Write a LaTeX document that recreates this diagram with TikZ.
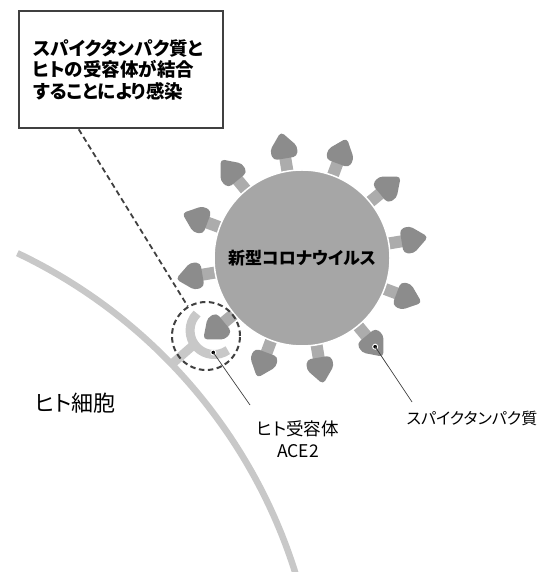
\documentclass[tikz,border=0pt]{standalone}
\usepackage{fontspec}
\setmainfont{Noto Sans CJK JP}[RawFeature=+palt]
\definecolor{virusgray}{RGB}{166,166,166}
\definecolor{spikegray}{RGB}{140,140,140}
\definecolor{stalkgray}{RGB}{172,172,172}
\definecolor{cellgray}{RGB}{200,200,200}
\definecolor{linegray}{RGB}{64,64,64}
\usetikzlibrary{positioning}

\begin{document}
\begin{tikzpicture}[x=1pt, y=1pt,
    stalk/.style={fill=stalkgray},
    spikehead/.style={fill=spikegray, rounded corners=4pt},
    tagtext/.style={font=\fontsize{17.5}{22}\selectfont, align=center},
    pointer/.style={draw=linegray, line width=0.7pt}]
  \useasboundingbox (0,0) rectangle (545,572);

  % cell membrane
  \coordinate (cellmid) at (-209.5,-159);
  \draw[cellgray, line width=6.5pt] (cellmid) ++(64.6:529) arc[start angle=64.6, end angle=15, radius=529];
  \path (cellmid) ++(43.9:529) coordinate (anchorpt);

  % spikes round the virus
  \coordinate (virusmid) at (302,314);
  \foreach \a in {9.5,39.5,...,339.5} {
    \begin{scope}[shift={(virusmid)}, rotate=\a]
      \fill[stalk] (80,-6) rectangle (106,6);
      \fill[spikehead] (101,-12) -- (111,-14) -- (128,0) -- (111,14) -- (101,12) -- cycle;
    \end{scope}
  }
  \node[circle, fill=virusgray, draw=white, line width=1.5pt, minimum size=176pt, inner sep=0pt,
        font=\bfseries\fontsize{17}{20}\selectfont] (virus) at (virusmid) {新型コロナウイルス};

  % receptor holding one spike
  \path (virusmid) ++(219.5:114) coordinate (bound);
  \draw[cellgray, line width=9pt] (bound) ++(215:24) -- (anchorpt);
  \draw[cellgray, line width=9pt] (bound) ++(135:24) arc[start angle=135, end angle=305, radius=24];
  \path (bound) ++(268:22) coordinate (acedot);
  \path (virusmid) ++(309.5:115) coordinate (spikedot);
  \fill[black, draw=white, line width=1pt] (acedot) circle (2.5pt);
  \fill[black, draw=white, line width=1pt] (spikedot) circle (2.5pt);

  % close-up ring and caption box
  \node[circle, draw=linegray, dash pattern=on 5.5pt off 3.5pt, line width=2pt, minimum size=68pt] (zoomring) at (206,236) {};
  \node[draw=linegray, line width=2.6pt, fill=white, text width=176pt, inner xsep=14pt, minimum height=117pt,
        align=left, font=\bfseries\fontsize{18.5}{21.5}\selectfont] (claim) at (121,502.5)
        {スパイクタンパク質と\\ヒトの受容体が結合\\することにより感染};
  \path (claim.south west) ++(61,0) coordinate (claimfoot);
  \draw[linegray, dash pattern=on 5.5pt off 3.5pt, line width=1.8pt] (claimfoot) -- (zoomring);

  % labels
  \node[tagtext] (acelabel) at (298,133) {ヒト受容体\\ACE2};
  \node[tagtext, font=\fontsize{16}{21}\selectfont] (spikelabel) at (472,154) {スパイクタンパク質};
  \node[font=\fontsize{22}{26}\selectfont] (celllabel) at (75,169) {ヒト細胞};
  \coordinate (acetip) at (250,167);
  \coordinate (spiketip) at (412,170);
  \draw[pointer] (acedot) -- (acetip);
  \draw[pointer] (spikedot) -- (spiketip);
\end{tikzpicture}
\end{document}
